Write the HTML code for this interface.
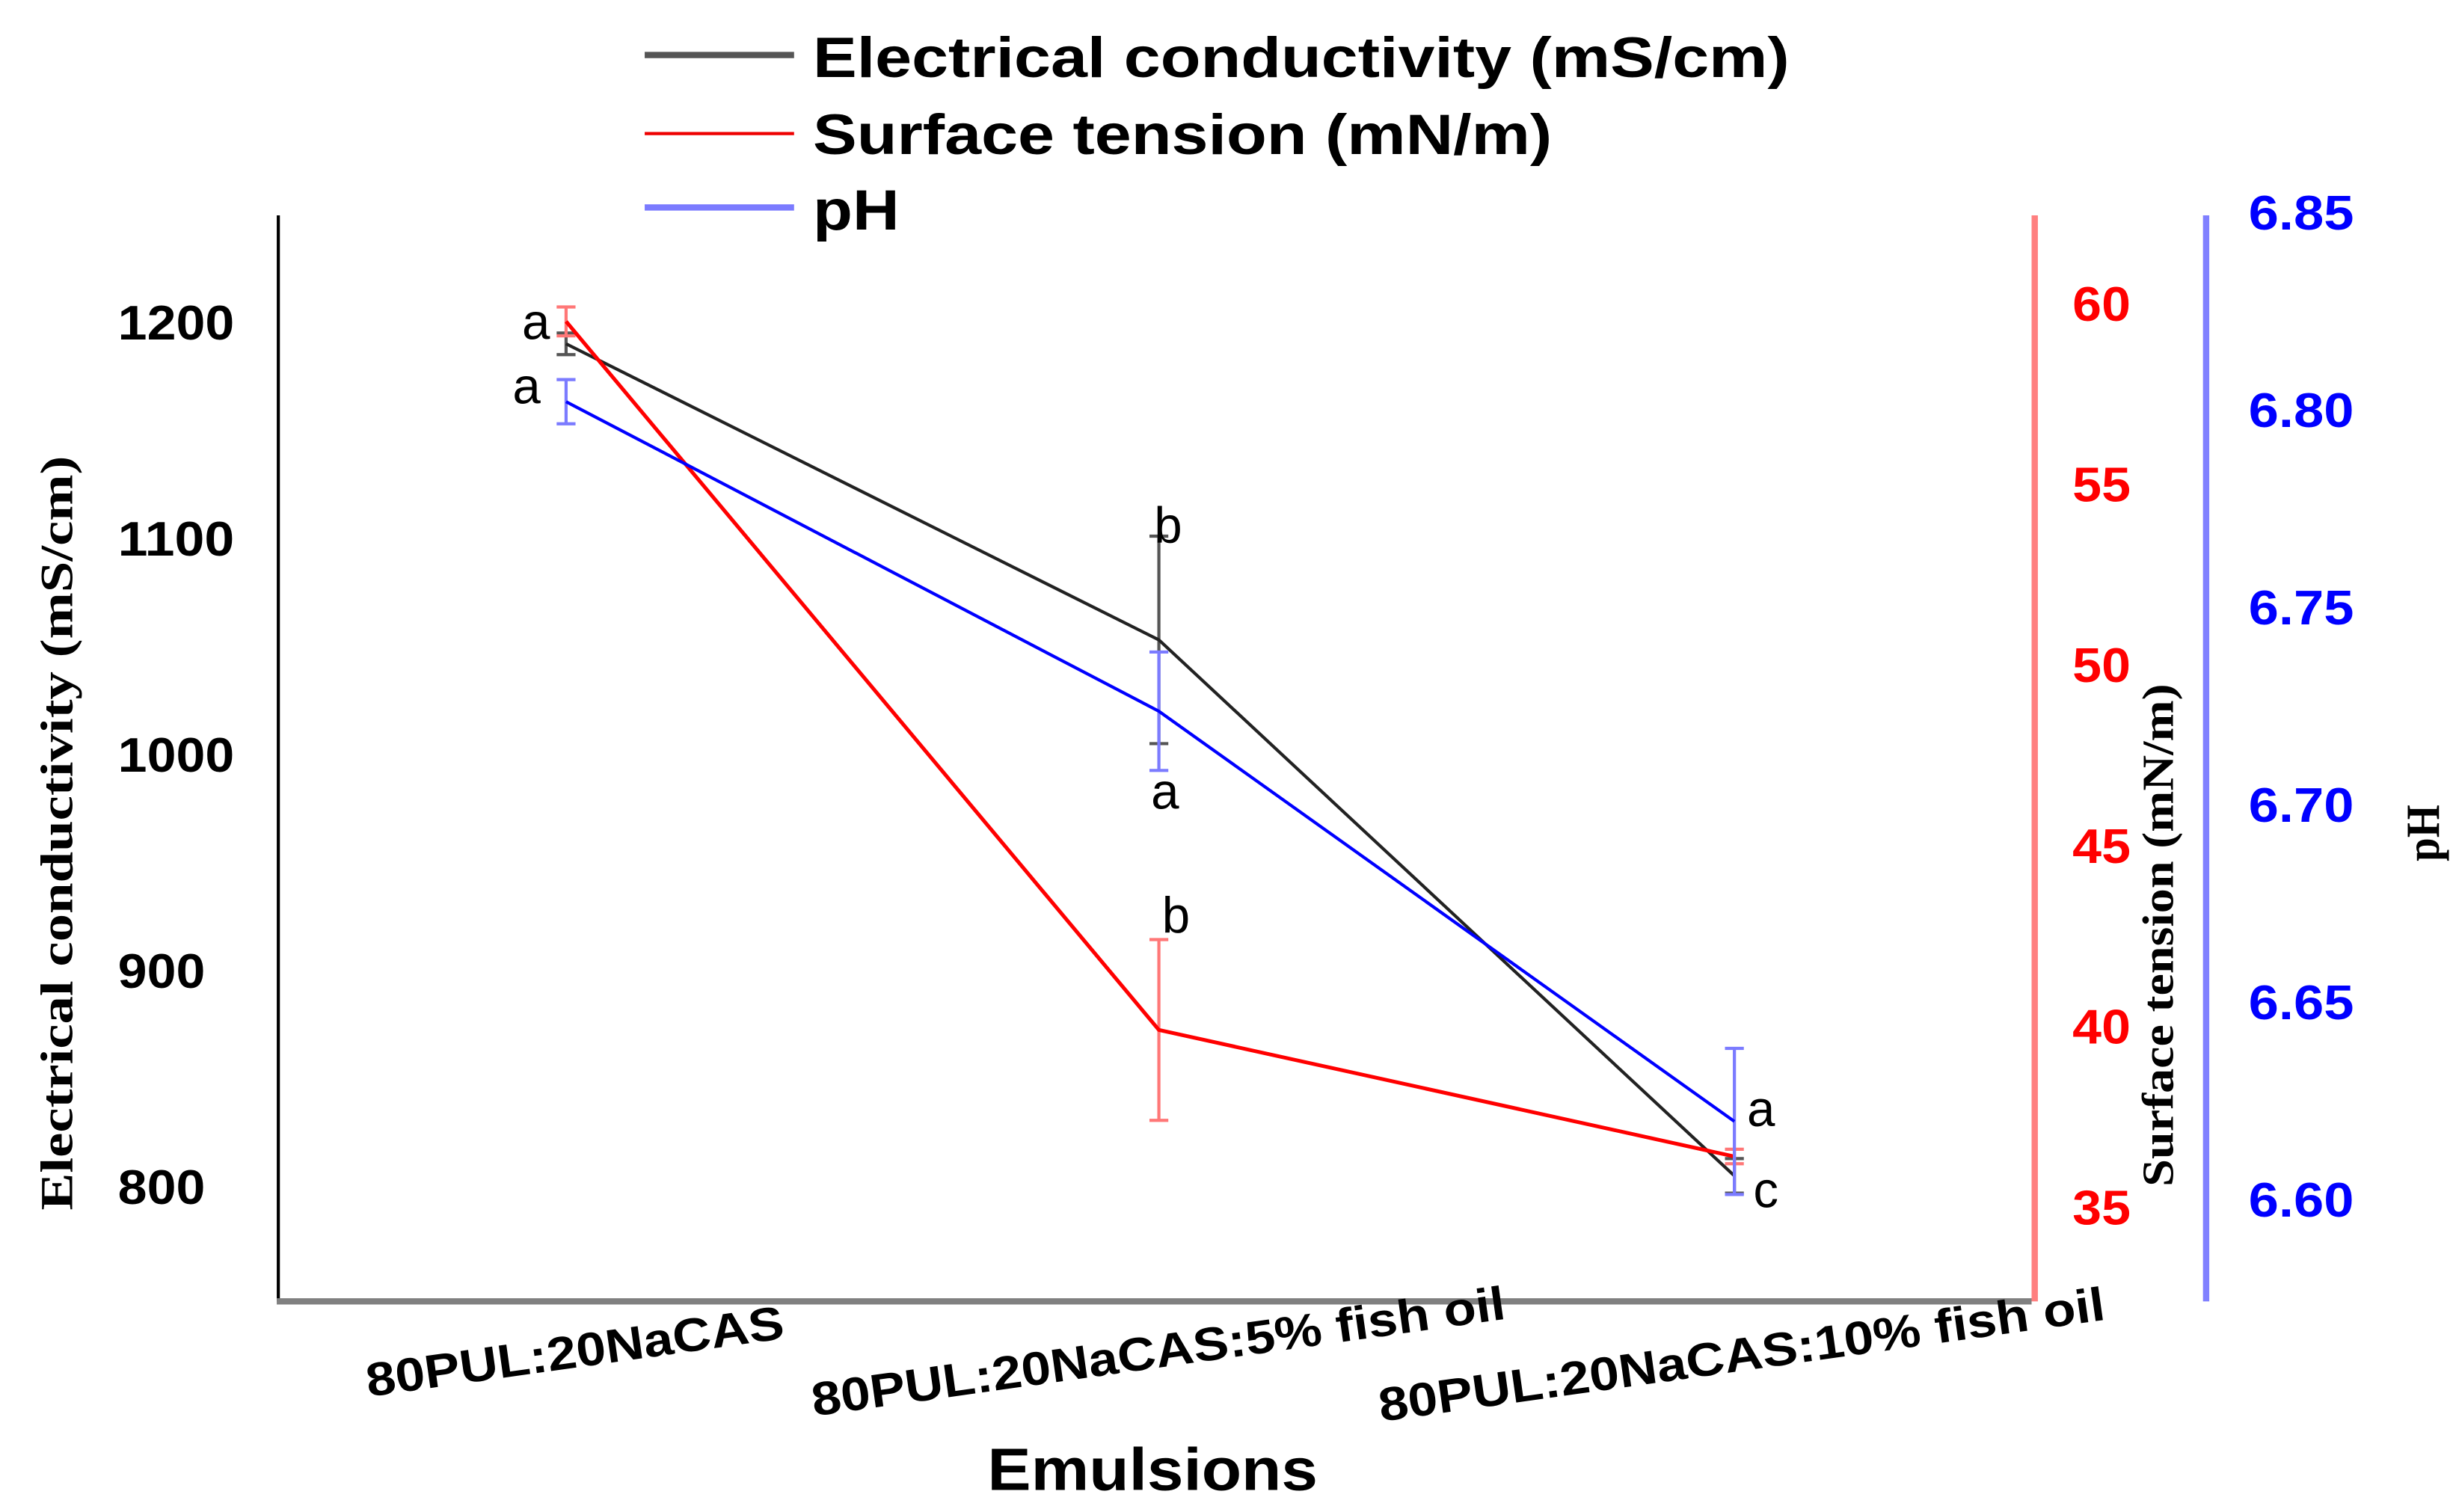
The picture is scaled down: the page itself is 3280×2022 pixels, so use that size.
<!DOCTYPE html>
<html><head><meta charset="utf-8"><style>
html,body{margin:0;padding:0;background:#fff;}
svg{display:block;}
</style></head><body>
<svg id="chart" width="3280" height="2022" viewBox="0 0 1560 962" preserveAspectRatio="none" xmlns="http://www.w3.org/2000/svg">
<g id="legend" font-family="Liberation Sans, sans-serif" font-weight="bold" font-size="36" lengthAdjust="spacingAndGlyphs">
  <g><line x1="410" y1="35" x2="505" y2="35" stroke="#555" stroke-width="4"/><text x="517" y="49" textLength="621" lengthAdjust="spacingAndGlyphs">Electrical conductivity (mS/cm)</text></g>
  <g><line x1="410" y1="85" x2="505" y2="85" stroke="#e00" stroke-width="2"/><text x="517" y="98" textLength="470" lengthAdjust="spacingAndGlyphs">Surface tension (mN/m)</text></g>
  <g><line x1="410" y1="132" x2="505" y2="132" stroke="#7b7bff" stroke-width="4"/><text x="517" y="146" textLength="55" lengthAdjust="spacingAndGlyphs">pH</text></g>
</g>
<g id="axes"></g>
<g id="marks"></g>
</svg>
<script>
const categories = ["80PUL:20NaCAS", "80PUL:20NaCAS:5% fish oil", "80PUL:20NaCAS:10% fish oil"];
const ecValues = [1190, 1053, 805];
const ecErrors = [5, 48, 8];
const ecLetters = ["a", "b", "c"];
const stValues = [59.5, 39.9, 36.4];
const stErrors = [0.4, 2.5, 0.2];
const stLetters = ["", "b", ""];
const phValues = [6.802, 6.7236, 6.6197];
const phErrors = [0.0056, 0.015, 0.0185];
const phLetters = ["a", "a", "a"];
const ecTicks = [800, 900, 1000, 1100, 1200];
const stTicks = [35, 40, 45, 50, 55, 60];
const phTicks = ["6.60", "6.65", "6.70", "6.75", "6.80", "6.85"];

const NS = "http://www.w3.org/2000/svg";
const xPos = i => [360, 737, 1103][i];
const yEC = v => 205 + (1200 - v) * 1.375;
const yST = v => 193 + (60 - v) * 23;
const yPH = v => 135 + (6.85 - v) * 2512;
function mk(tag, attrs, parent, text){
  const e = document.createElementNS(NS, tag);
  for (const k in attrs) e.setAttribute(k, attrs[k]);
  if (text !== undefined) e.textContent = text;
  parent.appendChild(e); return e;
}
const axes = document.getElementById('axes');
const marks = document.getElementById('marks');
const F = "Liberation Sans, sans-serif";
let el;
el = mk('line', {x1:177,y1:137,x2:177,y2:828,stroke:'#000','stroke-width':2}, axes);


el = mk('line', {x1:176,y1:828,x2:1292,y2:828,stroke:'#808080','stroke-width':4}, axes);


el = mk('line', {x1:1294,y1:137,x2:1294,y2:828,stroke:'#ff8080','stroke-width':4}, axes);


el = mk('line', {x1:1403,y1:137,x2:1403,y2:828,stroke:'#8080ff','stroke-width':4}, axes);


ecTicks.forEach(t => {
  el = mk('text', {x:75,y:yEC(t)+11,'font-family':F,'font-weight':'bold','font-size':31,fill:'#000',textLength:String(t).length*18.5,lengthAdjust:'spacingAndGlyphs'}, axes, String(t));
  
  
});
stTicks.forEach(t => {
  el = mk('text', {x:1318,y:yST(t)+11,'font-family':F,'font-weight':'bold','font-size':31,fill:'#f00',textLength:37,lengthAdjust:'spacingAndGlyphs'}, axes, String(t));
  
  
});
phTicks.forEach(t => {
  el = mk('text', {x:1430,y:yPH(+t)+11,'font-family':F,'font-weight':'bold','font-size':31,fill:'#00f',textLength:67,lengthAdjust:'spacingAndGlyphs'}, axes, t);
  
  
});
el = mk('text', {transform:'translate(46,530) rotate(-90)','text-anchor':'middle','font-family':'Liberation Serif, serif','font-weight':'bold','font-size':29,textLength:480,lengthAdjust:'spacingAndGlyphs'}, axes, 'Electrical conductivity (mS/cm)');


el = mk('text', {transform:'translate(1382,595) rotate(-90)','text-anchor':'middle','font-family':'Liberation Serif, serif','font-weight':'bold','font-size':28,textLength:320,lengthAdjust:'spacingAndGlyphs'}, axes, 'Surface tension (mN/m)');


el = mk('text', {transform:'translate(1551,530) rotate(-90)','text-anchor':'middle','font-family':'Liberation Serif, serif','font-weight':'bold','font-size':30,textLength:36,lengthAdjust:'spacingAndGlyphs'}, axes, 'pH');


const lblPos = [[367,870],[738,870],[1109,872]];
const lblLen = [268, 445, 466];
categories.forEach((c, i) => {
  el = mk('text', {transform:`translate(${lblPos[i][0]},${lblPos[i][1]}) rotate(-8)`,'text-anchor':'middle','font-family':F,'font-weight':'bold','font-size':30,textLength:lblLen[i],lengthAdjust:'spacingAndGlyphs'}, axes, c);
  
  
});
el = mk('text', {x:628,y:948,'font-family':F,'font-weight':'bold','font-size':38,textLength:210,lengthAdjust:'spacingAndGlyphs'}, axes, 'Emulsions');



function series(vals, errs, yf, lineColor, errColor, name, w){
  vals.forEach((v, i) => {
    const x = xPos(i), y1 = yf(v + errs[i]), y2 = yf(v - errs[i]);
    const g = mk('g', {stroke:errColor,'stroke-width':2}, marks);
    
    
    mk('line', {x1:x,y1:y1,x2:x,y2:y2}, g);
    mk('line', {x1:x-6,y1:y1,x2:x+6,y2:y1}, g);
    mk('line', {x1:x-6,y1:y2,x2:x+6,y2:y2}, g);
  });
  const pts = vals.map((v, i) => xPos(i) + ',' + yf(v)).join(' ');
  el = mk('polyline', {points:pts,fill:'none',stroke:lineColor,'stroke-width':w}, marks);
  
  
}
series(ecValues, ecErrors, yEC, '#222', '#555', 'conductivity', 2);
series(stValues, stErrors, yST, '#f00', '#f77', 'surface-tension', 2.4);
series(phValues, phErrors, yPH, '#00f', '#7b7bff', 'ph', 2);

const LF = {'font-family':F,'font-size':32,fill:'#000'};
const ecLetterPos = [[-28,-3],[-3,-62],[12,20]];
ecLetters.forEach((l, i) => {
  const [dx, dy] = ecLetterPos[i];
  el = mk('text', Object.assign({x:xPos(i)+dx, y:yEC(ecValues[i])+dy}, LF), marks, l);
  
  
});
stLetters.forEach((l, i) => {
  if (!l) return;
  el = mk('text', Object.assign({x:xPos(i)+2, y:yST(stValues[i])-62}, LF), marks, l);
  
  
});
const phLetterPos = [[-34,1],[-5,62],[8,3]];
phLetters.forEach((l, i) => {
  const [dx, dy] = phLetterPos[i];
  el = mk('text', Object.assign({x:xPos(i)+dx, y:yPH(phValues[i])+dy}, LF), marks, l);
  
  
});
</script>
</body></html>
